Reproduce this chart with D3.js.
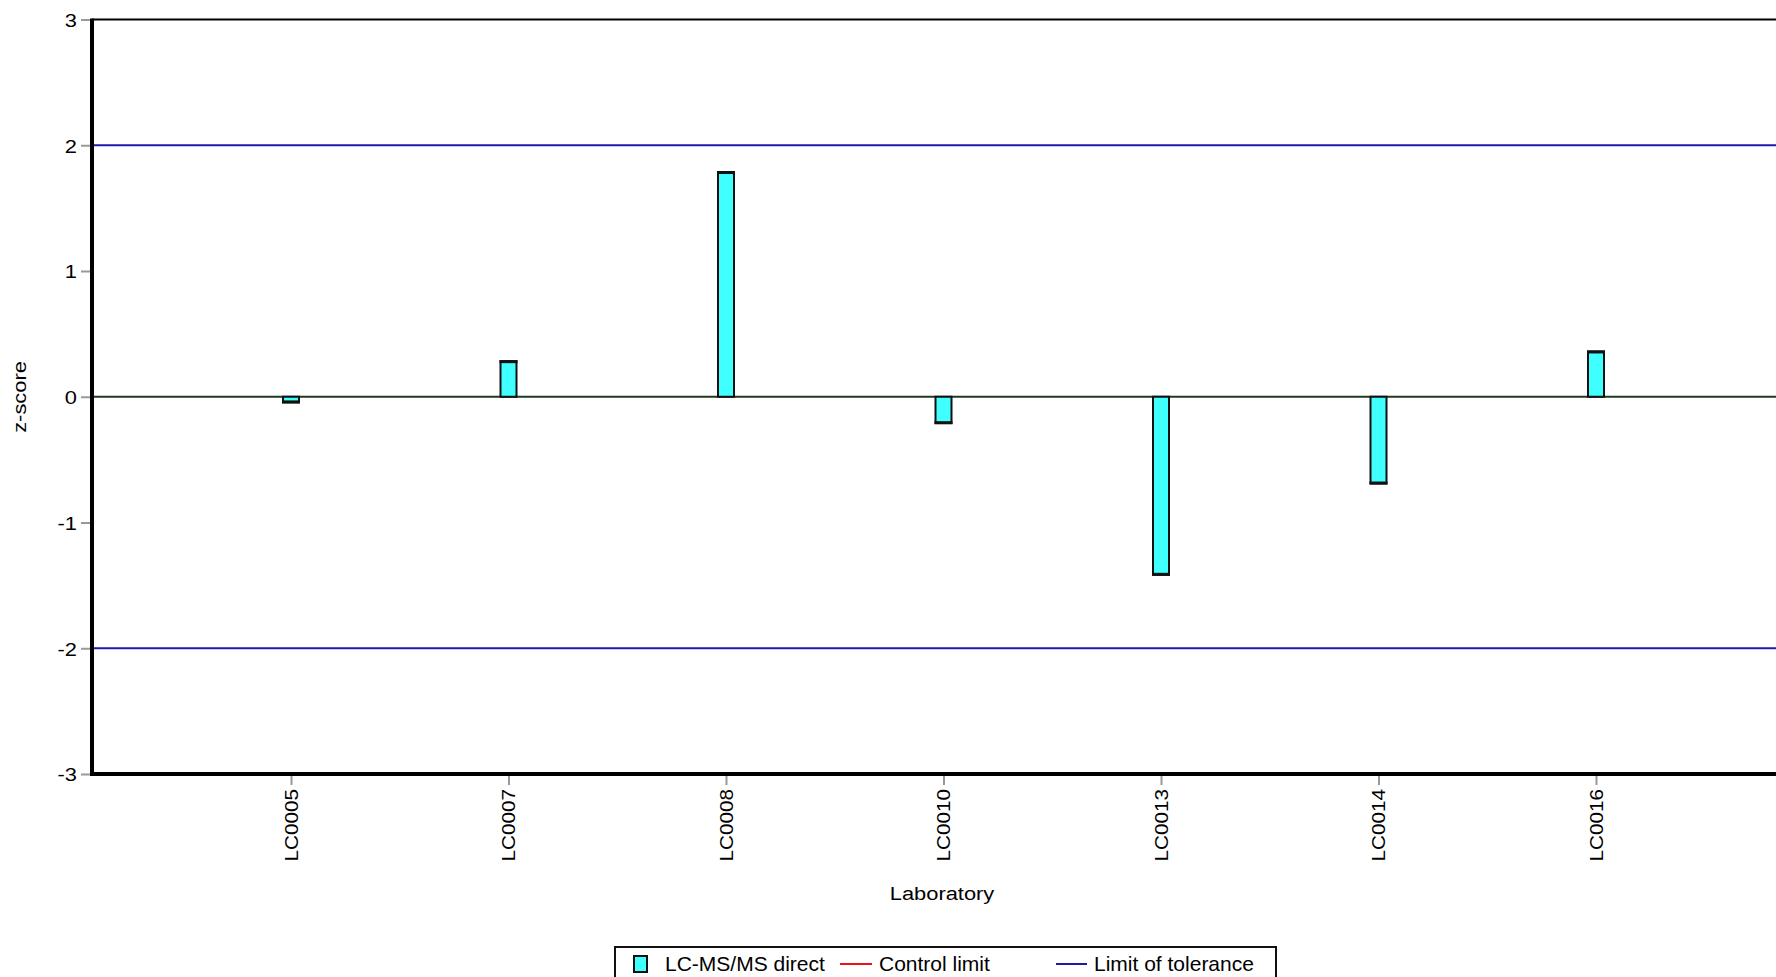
<!DOCTYPE html>
<html>
<head>
<meta charset="utf-8">
<script src="https://cdn.jsdelivr.net/npm/d3@7/dist/d3.min.js"></script>
<style>
html,body{margin:0;padding:0;background:#fff;}
svg{display:block;font-family:"Liberation Sans",Arial,sans-serif;}
</style>
</head>
<body>
<svg id="chart" width="1776" height="977"></svg>
<script>
const categories = ["LC0005","LC0007","LC0008","LC0010","LC0013","LC0014","LC0016"];
const zScores = [-0.045, 0.283, 1.787, -0.21, -1.416, -0.69, 0.36];
const yTicks = [-3,-2,-1,0,1,2,3];
const toleranceLimits = [-2, 2];
const legendItems = ["LC-MS/MS direct","Control limit","Limit of tolerance"];

(function(){
const svg = d3.select("#chart");
const plotLeft = 92, plotTop = 19.5, plotBottom = 774;
const rightEdge = 1776;
const stretch = 1.15;
const FF = "Liberation Sans, Arial, sans-serif";

const y = d3.scaleLinear().domain([-3,3]).range([plotBottom, plotTop]);
const x = d3.scalePoint().domain(categories).range([291, 1596]);

// y axis ticks + labels
const yAxis = d3.axisLeft(y).tickValues(yTicks).tickSize(11).tickPadding(4).tickFormat(d => String(d));
const gy = svg.append("g").attr("transform", `translate(${plotLeft},0)`).call(yAxis);
gy.select(".domain").remove();
gy.selectAll(".tick line").attr("stroke","#999").attr("stroke-width",2);
gy.selectAll(".tick text").attr("font-size",19).attr("fill","#000").attr("font-family",FF)
  .attr("x", -15/stretch).attr("dy","0.36em")
  .attr("transform", `scale(${stretch},1)`);

// x axis ticks + labels
const xAxis = d3.axisBottom(x).tickSize(11).tickPadding(5);
const gx = svg.append("g").attr("transform", `translate(0,${plotBottom})`).call(xAxis);
gx.select(".domain").remove();
gx.selectAll(".tick line").attr("stroke","#999").attr("stroke-width",2);
gx.selectAll(".tick text")
  .attr("font-size",18).attr("fill","#000").attr("font-family",FF)
  .attr("transform",`rotate(-90) scale(${stretch},1)`)
  .attr("text-anchor","end")
  .attr("x",-15/stretch).attr("y",0).attr("dy","0.35em");

// tolerance lines
svg.selectAll("line.tol").data(toleranceLimits).enter().append("line")
  .attr("class","tol")
  .attr("x1",plotLeft).attr("x2",rightEdge)
  .attr("y1",d=>y(d)).attr("y2",d=>y(d))
  .attr("stroke","#1c1caa").attr("stroke-width",2);

// zero line
svg.append("line").attr("x1",plotLeft).attr("x2",rightEdge)
  .attr("y1",y(0)).attr("y2",y(0))
  .attr("stroke","#1f3a1f").attr("stroke-width",2);

// bars
const bw = 16;
const bars = svg.append("g");
categories.forEach((c,i)=>{
  const v = zScores[i];
  const y0 = y(Math.max(0,v)), y1 = y(Math.min(0,v));
  bars.append("rect")
    .attr("x", x(c)-bw/2).attr("y", y0)
    .attr("width", bw).attr("height", Math.max(1, y1-y0))
    .attr("fill","#40ffff").attr("stroke","#111").attr("stroke-width",2);
  bars.append("line")
    .attr("x1", x(c)-bw/2-1).attr("x2", x(c)+bw/2+1)
    .attr("y1", v>=0 ? y0+0.5 : y1-0.5).attr("y2", v>=0 ? y0+0.5 : y1-0.5)
    .attr("stroke","#111").attr("stroke-width",3);
});

// frame
svg.append("line").attr("x1",plotLeft).attr("x2",rightEdge).attr("y1",plotTop).attr("y2",plotTop)
  .attr("stroke","#000").attr("stroke-width",2);
svg.append("line").attr("x1",plotLeft).attr("x2",plotLeft).attr("y1",plotTop-1).attr("y2",plotBottom+2)
  .attr("stroke","#000").attr("stroke-width",4);
svg.append("line").attr("x1",plotLeft-2).attr("x2",rightEdge).attr("y1",plotBottom).attr("y2",plotBottom)
  .attr("stroke","#000").attr("stroke-width",4);

// axis titles
svg.append("text").attr("transform",`translate(942,900) scale(${stretch},1)`).attr("text-anchor","middle")
  .attr("font-size",19).text("Laboratory");
svg.append("text").attr("transform",`translate(26,397) rotate(-90) scale(${stretch},1)`).attr("text-anchor","middle")
  .attr("font-size",19).text("z-score");

// legend
const lg = svg.append("g");
lg.append("rect").attr("x",615).attr("y",947).attr("width",661).attr("height",40)
  .attr("fill","#fff").attr("stroke","#111").attr("stroke-width",2);
lg.append("rect").attr("x",634).attr("y",956).attr("width",13).attr("height",16)
  .attr("fill","#40ffff").attr("stroke","#111").attr("stroke-width",2);
lg.append("text").attr("x",665).attr("y",971).attr("font-size",21).text(legendItems[0]);
lg.append("line").attr("x1",840).attr("x2",872).attr("y1",964).attr("y2",964).attr("stroke","#ee1111").attr("stroke-width",2);
lg.append("text").attr("x",879).attr("y",971).attr("font-size",21).text(legendItems[1]);
lg.append("line").attr("x1",1056).attr("x2",1087).attr("y1",964).attr("y2",964).attr("stroke","#1c1caa").attr("stroke-width",2);
lg.append("text").attr("x",1094).attr("y",971).attr("font-size",21).text(legendItems[2]);
})();
</script>
</body>
</html>
